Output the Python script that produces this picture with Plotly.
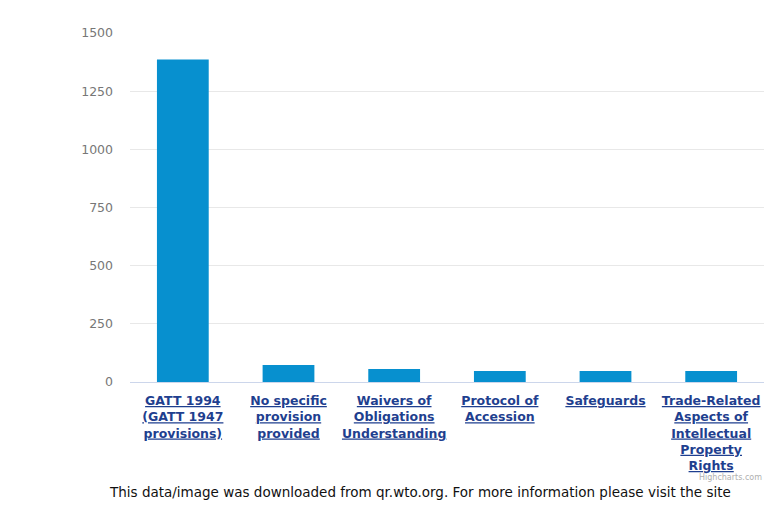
import plotly.graph_objects as go

# Notifications by legal provision cited
categories = [
    "GATT 1994<br>(GATT 1947<br>provisions)",
    "No specific<br>provision<br>provided",
    "Waivers of<br>Obligations<br>Understanding",
    "Protocol of<br>Accession",
    "Safeguards",
    "Trade-Related<br>Aspects of<br>Intellectual<br>Property<br>Rights",
]
counts = [1386, 73, 56, 47, 47, 47]
y_ticks = [0, 250, 500, 750, 1000, 1250, 1500]

fig = go.Figure(
    go.Bar(
        x=categories,
        y=counts,
        marker=dict(color="#0790cf", line=dict(width=0)),
        hoverinfo="x+y",
    )
)

fig.update_layout(
    width=767,
    height=508,
    margin=dict(l=130, r=3, t=33, b=126),
    paper_bgcolor="white",
    plot_bgcolor="white",
    bargap=0.51,
    showlegend=False,
    font=dict(family="DejaVu Sans"),
)

fig.update_yaxes(
    range=[0, 1500],
    tickvals=y_ticks,
    ticktext=[str(v) for v in y_ticks],
    showgrid=True,
    gridcolor="#e8e8e8",
    gridwidth=1,
    zeroline=False,
    showline=False,
    ticks="",
    ticklabelstandoff=16,
    tickfont=dict(size=12.5, color="#777777"),
)

fig.update_xaxes(
    showline=True,
    linecolor="#ccd6eb",
    linewidth=1,
    ticks="",
    showgrid=False,
    tickangle=0,
    ticklabelstandoff=7,
    tickfont=dict(size=12.5, color="#1f3f8f", weight="bold", lineposition="under"),
)

fig.add_annotation(
    text="This data/image was downloaded from qr.wto.org. For more information please visit the site",
    xref="paper", yref="paper",
    x=(420 - 130) / 634, y=-(492 - 382) / 349,
    xanchor="center", yanchor="middle",
    showarrow=False,
    font=dict(size=13.5, color="#111111", family="DejaVu Sans"),
)

fig.add_annotation(
    text="Highcharts.com",
    xref="paper", yref="paper",
    x=1.0, y=-(478 - 382) / 349,
    xanchor="right", yanchor="middle",
    showarrow=False,
    font=dict(size=8, color="#b0b0b0", family="DejaVu Sans"),
)

fig.write_html("out.html")
